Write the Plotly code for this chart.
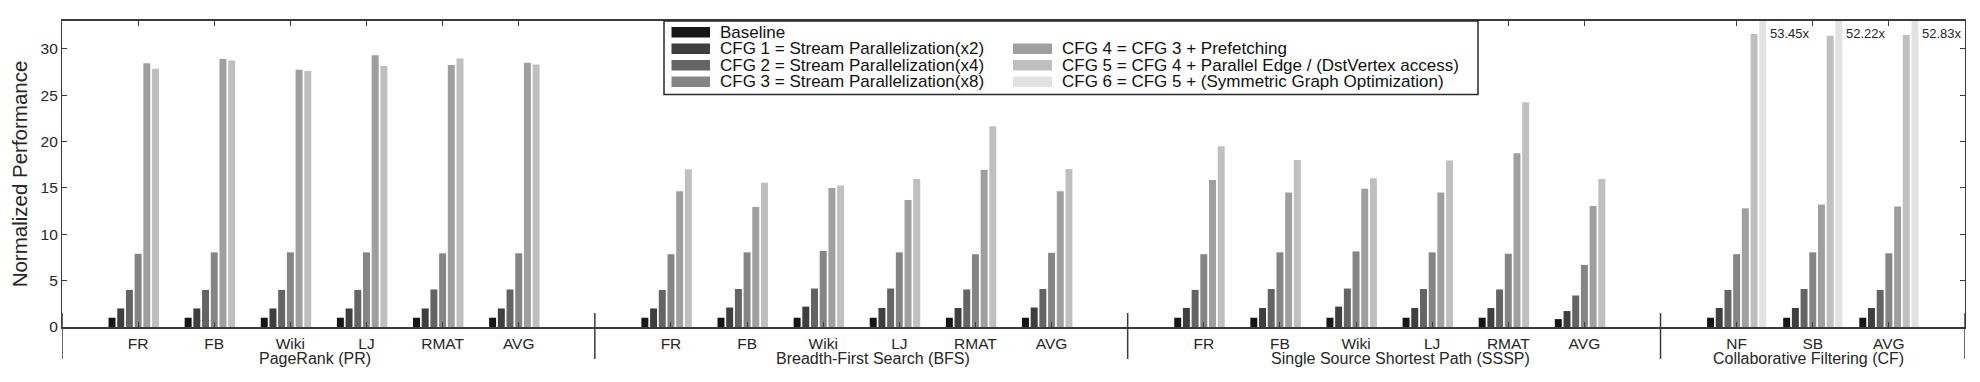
import plotly.graph_objects as go

# ---------------- data ----------------
algorithms = ["PageRank (PR)", "Breadth-First Search (BFS)",
              "Single Source Shortest Path (SSSP)", "Collaborative Filtering (CF)"]
datasets_pr = ["FR", "FB", "Wiki", "LJ", "RMAT", "AVG"]
datasets_bfs = ["FR", "FB", "Wiki", "LJ", "RMAT", "AVG"]
datasets_sssp = ["FR", "FB", "Wiki", "LJ", "RMAT", "AVG"]
datasets_cf = ["NF", "SB", "AVG"]

series_names = [
    "Baseline",
    "CFG 1 = Stream Parallelization(x2)",
    "CFG 2 = Stream Parallelization(x4)",
    "CFG 3 = Stream Parallelization(x8)",
    "CFG 4 = CFG 3 + Prefetching",
    "CFG 5 = CFG 4 + Parallel Edge / (DstVertex access)",
    "CFG 6 = CFG 5 + (Symmetric Graph Optimization)",
]

# values in order PR(6), BFS(6), SSSP(6), CF(3)
baseline = [1.0, 1.0, 1.0, 1.0, 1.0, 1.0,
            1.0, 1.0, 1.0, 1.0, 1.0, 1.0,
            1.0, 1.0, 1.0, 1.0, 1.0, 0.85,
            1.0, 1.0, 1.0]
cfg1 = [2.0, 2.0, 2.0, 2.0, 2.0, 2.0,
        2.0, 2.1, 2.2, 2.05, 2.05, 2.1,
        2.05, 2.05, 2.2, 2.05, 2.05, 1.72,
        2.05, 2.05, 2.05]
cfg2 = [4.0, 4.0, 4.0, 4.0, 4.05, 4.05,
        4.0, 4.1, 4.15, 4.15, 4.05, 4.1,
        4.0, 4.1, 4.15, 4.1, 4.05, 3.4,
        4.0, 4.1, 4.0]
cfg3 = [7.9, 8.05, 8.05, 8.05, 7.95, 7.95,
        7.85, 8.05, 8.2, 8.05, 7.85, 8.0,
        7.85, 8.05, 8.15, 8.05, 7.9, 6.7,
        7.85, 8.05, 7.95]
cfg4 = [28.45, 28.9, 27.75, 29.3, 28.25, 28.5,
        14.65, 12.95, 15.0, 13.7, 16.95, 14.65,
        15.85, 14.5, 14.9, 14.5, 18.75, 13.05,
        12.8, 13.2, 13.0]
cfg5 = [27.85, 28.75, 27.6, 28.15, 28.95, 28.3,
        17.0, 15.55, 15.25, 15.95, 21.65, 17.05,
        19.5, 18.0, 16.05, 17.95, 24.25, 15.95,
        31.6, 31.4, 31.5]
cfg6 = [None, None, None, None, None, None,
        None, None, None, None, None, None,
        None, None, None, None, None, None,
        53.45, 52.22, 52.83]

y_ticks = [0, 5, 10, 15, 20, 25, 30]

# ---------------- styling / layout constants ----------------
colors = ["#161616", "#3f3f3f", "#646464", "#858585", "#9f9f9f", "#bfbfbf", "#e2e2e2"]
FONT = "Liberation Sans, Arial, Helvetica, sans-serif"
TXT = "#262626"
AX = "#3a3a3a"
OFF = 8  # page body margin in the screenshot
W, H = 1980, 382
PW, PH = 1903, 306
ML, MT = 62 - OFF, 21 - OFF
MR, MB = W - ML - PW, H - MT - PH
Y_MAX = 33

group_lists = [datasets_pr, datasets_bfs, datasets_sssp, datasets_cf]
group_label_shift = [-0.17, 0.16, 0.08, -0.06]

# numeric positions: one empty slot between algorithm groups
positions, labels, dividers, group_centers = [], [], [0], []
pos = 1
for ds in group_lists:
    start = pos
    for name in ds:
        positions.append(pos)
        labels.append(name)
        pos += 1
    group_centers.append((start + pos - 1) / 2)
    dividers.append(pos)
    pos += 1
X_MAX = dividers[-1]

series = [baseline, cfg1, cfg2, cfg3, cfg4, cfg5, cfg6]

fig = go.Figure()
for name, vals, col in zip(series_names, series, colors):
    fig.add_trace(go.Bar(x=positions, y=vals, name=name, marker_color=col,
                         marker_line_width=0, showlegend=False))


def px2x(px):
    return (px - OFF - ML) / PW


def px2y(py):
    return (MT + PH - (py - OFF)) / PH


shapes = []
annotations = []

# group divider lines below the axis
for d in dividers:
    shapes.append(dict(type="line", xref="x", yref="paper", x0=d, x1=d,
                       y0=px2y(359), y1=px2y(313), line=dict(color=AX, width=1.5)))

# algorithm labels
for name, c, sh in zip(algorithms, group_centers, group_label_shift):
    annotations.append(dict(text=name, x=c + sh, xref="x", y=px2y(358), yref="paper",
                            showarrow=False, xanchor="center", yanchor="middle",
                            font=dict(family=FONT, size=16, color=TXT)))

# labels for clipped CFG 6 bars
bar_slot = 0.8 / len(series)
for p, v in zip(positions, cfg6):
    if v is not None:
        annotations.append(dict(text=f"{v:.2f}x", x=p + 3.5 * bar_slot, xref="x",
                                y=31.6, yref="y", showarrow=False, xanchor="left",
                                yanchor="middle", xshift=1,
                                font=dict(family=FONT, size=13, color=TXT)))

# manual legend (two columns, MATLAB style)
lx0, lx1, ly0, ly1 = 664, 1478, 21, 94.5
shapes.append(dict(type="rect", xref="paper", yref="paper", x0=px2x(lx0), x1=px2x(lx1),
                   y0=px2y(ly1), y1=px2y(ly0), fillcolor="white",
                   line=dict(color="#2a2a2a", width=1.5), layer="above"))
row_y = [32.2, 48.7, 65.2, 81.8]
cols = [(671.5, 710, 718), (1013, 1052, 1060)]
slots = [(0, 0), (0, 1), (0, 2), (0, 3), (1, 1), (1, 2), (1, 3)]
for (ci, ri), name, col in zip(slots, series_names, colors):
    sx0, sx1, tx = cols[ci]
    cy = row_y[ri]
    shapes.append(dict(type="rect", xref="paper", yref="paper", x0=px2x(sx0), x1=px2x(sx1),
                       y0=px2y(cy + 5.3), y1=px2y(cy - 5.3), fillcolor=col,
                       line=dict(width=0), layer="above"))
    annotations.append(dict(text=name, xref="paper", yref="paper", x=px2x(tx), y=px2y(cy),
                            xanchor="left", yanchor="middle", showarrow=False,
                            font=dict(family=FONT, size=17, color="#111")))

fig.update_layout(
    width=W, height=H,
    margin=dict(l=ML, r=MR, t=MT, b=MB, pad=0),
    paper_bgcolor="white", plot_bgcolor="white",
    barmode="group", bargap=0.2, bargroupgap=0.2,
    showlegend=False,
    shapes=shapes, annotations=annotations,
    font=dict(family=FONT, color=TXT),
)
fig.update_xaxes(range=[0, X_MAX], tickmode="array", tickvals=positions, ticktext=labels,
                 ticks="inside", ticklen=5, tickcolor=AX, showgrid=False, zeroline=False,
                 showline=True, linecolor=AX, linewidth=1.5, mirror="ticks",
                 tickfont=dict(family=FONT, size=15.5, color=TXT), ticklabelstandoff=2,
                 automargin=False)
fig.update_yaxes(range=[0, Y_MAX], tickmode="array", tickvals=y_ticks,
                 ticks="inside", ticklen=5, tickcolor=AX, showgrid=False, zeroline=False,
                 showline=True, linecolor=AX, linewidth=1.2, mirror="ticks",
                 tickfont=dict(family=FONT, size=15.5, color=TXT), automargin=False,
                 title=dict(text="Normalized Performance", standoff=10,
                            font=dict(family=FONT, size=20.5, color=TXT)))

fig.write_html("out.html")
